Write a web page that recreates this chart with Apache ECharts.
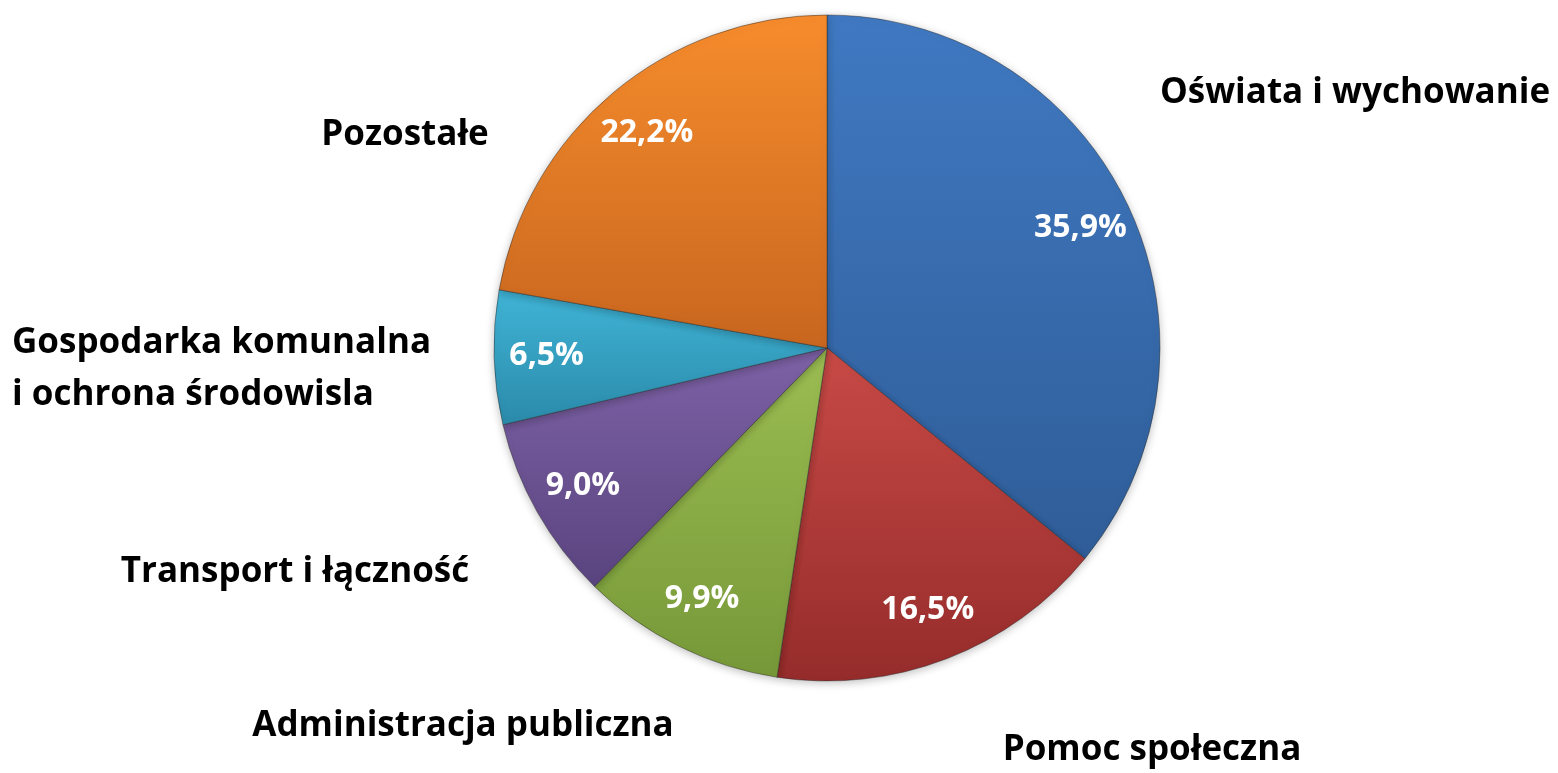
<!DOCTYPE html>
<html lang="pl">
<head>
    <meta charset="UTF-8">
    <title>Struktura wydatków</title>
    <script src="https://cdn.jsdelivr.net/npm/echarts@6/dist/echarts.min.js"></script>
    <style>
        body { margin: 0; padding: 0; background: #fff; overflow: hidden; }
        #chart { width: 1558px; height: 773px; }
    </style>
</head>
<body>
    <div id="chart"></div>
    <script>
        var categories = ['Oświata i wychowanie', 'Pomoc społeczna', 'Administracja publiczna',
                          'Transport i łączność', 'Gospodarka komunalna\ni ochrona środowisla', 'Pozostałe'];
        var shares = [35.9, 16.5, 9.9, 9.0, 6.5, 22.2];

        // slice colours: light top, dark bottom
        var topColors = ['#4079c2', '#c84a46', '#9bbd52', '#7d62a6', '#40b4d6', '#f68c2c'];
        var bottomColors = ['#2f5d98', '#952c2b', '#779838', '#5a447f', '#2b8aaa', '#c8661f'];

        // name label placement (px), align
        var namePos = [[1355, 93, 'center'], [1152, 750, 'center'], [463, 726, 'center'],
                       [295, 572, 'center'], [12, 369, 'left'], [405, 135, 'center']];

        var fontFam = '"Open Sans", "DejaVu Sans", sans-serif';

        var dataList = [];
        var ringList = [];
        for (var i = 0; i < categories.length; i++) {
            dataList.push({
                name: categories[i],
                value: shares[i],
                itemStyle: {
                    color: new echarts.graphic.LinearGradient(0, 0, 0, 1, [
                        { offset: 0, color: topColors[i] },
                        { offset: 1, color: bottomColors[i] }
                    ])
                }
            });
            ringList.push({ name: categories[i], value: shares[i] });
        }

        var myChart = echarts.init(document.getElementById('chart'));
        var option = {
            backgroundColor: '#ffffff',
            animation: false,
            series: [{
                type: 'pie',
                center: [827, 348],
                radius: [0, 333],
                startAngle: 90,
                avoidLabelOverlap: false,
                itemStyle: {
                    borderColor: 'rgba(40,40,40,0.45)',
                    borderWidth: 1,
                    shadowBlur: 8,
                    shadowColor: 'rgba(0,0,0,0.25)',
                    shadowOffsetY: 2
                },
                label: {
                    show: true,
                    position: 'outside',
                    formatter: '{b}',
                    color: '#000',
                    fontFamily: fontFam,
                    fontWeight: 'bold',
                    fontSize: 35,
                    lineHeight: 52
                },
                labelLine: { show: false },
                labelLayout: function (params) {
                    var p = namePos[params.dataIndex];
                    return { x: p[0], y: p[1], align: p[2], verticalAlign: 'middle' };
                },
                emphasis: { disabled: true },
                data: dataList
            }, {
                // transparent ring just to carry the percent labels
                type: 'pie',
                center: [827, 348],
                radius: [222, 333],
                startAngle: 90,
                silent: true,
                z: 5,
                itemStyle: { color: 'rgba(0,0,0,0)' },
                label: {
                    show: true,
                    position: 'inside',
                    color: '#ffffff',
                    fontFamily: fontFam,
                    fontWeight: 'bold',
                    fontSize: 32,
                    formatter: function (p) {
                        return p.value.toFixed(1).replace('.', ',') + '%';
                    }
                },
                labelLine: { show: false },
                emphasis: { disabled: true },
                data: ringList
            }]
        };
        myChart.setOption(option);
    </script>
</body>
</html>
